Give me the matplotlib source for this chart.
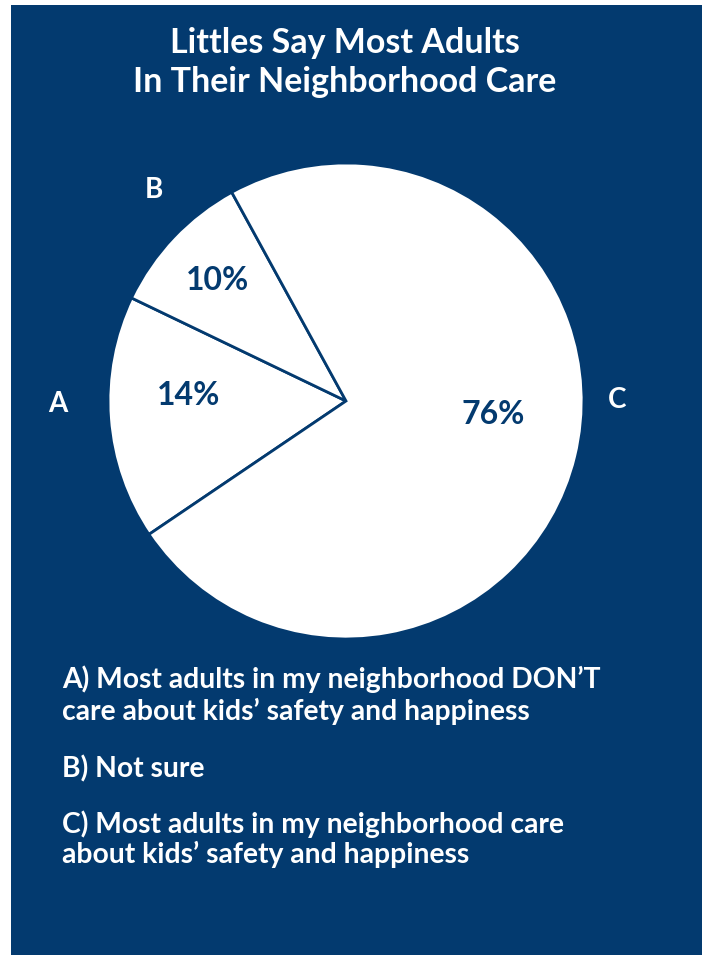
import numpy as np
import matplotlib.pyplot as plt
from matplotlib.patches import Rectangle

# data
letters = ['A', 'B', 'C']
pct_text = ['14%', '10%', '76%']
# wedge sizes as drawn in the picture (angles)
wedge_sizes = [16.6, 9.9, 73.5]
title_lines = ['Littles Say Most Adults', 'In Their Neighborhood Care']
legend_lines = ["A) Most adults in my neighborhood DON\u2019T",
                "care about kids\u2019 safety and happiness",
                "B) Not sure",
                "C) Most adults in my neighborhood care",
                "about kids\u2019 safety and happiness"]

navy = '#033a6f'
W, H = 702, 955
plt.rcParams['font.family'] = ['Lato', 'DejaVu Sans']

fig = plt.figure(figsize=(W / 100, H / 100), dpi=100)
fig.patches.append(Rectangle((11 / W, 0), 1, 1 - 5 / H, transform=fig.transFigure,
                             facecolor=navy, edgecolor='none', zorder=-5))

def fx(x):
    return x / W

def fy(y):
    return 1 - y / H

# pie, centre (346, 401) px, radius 238 px
cx, cy, r = 346, 401, 238
ax = fig.add_axes([fx(cx - r), fy(cy + r), 2 * r / W, 2 * r / H])
ax.set_zorder(2)
ax.set_facecolor('none')
wedges, _ = ax.pie(wedge_sizes, startangle=214.1, counterclock=False, radius=1,
                   colors=['white'] * 3,
                   wedgeprops=dict(edgecolor=navy, linewidth=2))
ax.set_xlim(-1, 1)
ax.set_ylim(-1, 1)
ax.set_aspect('auto')

# percentage labels (radius, angle in degrees)
pct_pos = [(0.66, 178), (0.74, 137), (0.62, -5.4)]
for t, (rr, a) in zip(pct_text, pct_pos):
    ax.text(rr * np.cos(np.radians(a)), rr * np.sin(np.radians(a)), t,
            ha='center', va='center', color=navy, fontsize=23, fontweight='bold')

# outside letters
let_pos = [(1.21, 180.5), (1.20, 132.3), (1.14, 0.2)]
for t, (rr, a) in zip(letters, let_pos):
    ax.text(rr * np.cos(np.radians(a)), rr * np.sin(np.radians(a)), t,
            ha='center', va='center', color='white', fontsize=20, fontweight='bold',
            clip_on=False)

# title
for t, yb in zip(title_lines, [53, 92]):
    fig.text(fx(345), fy(yb), t, ha='center', va='baseline', color='white',
             fontsize=24.5, fontweight='bold')

# legend text
for t, yb in zip(legend_lines, [688, 720, 777, 833, 863]):
    fig.text(fx(62), fy(yb), t, ha='left', va='baseline', color='white',
             fontsize=20.3, fontweight='bold')

fig.savefig('out.png', dpi=100, facecolor='white')
